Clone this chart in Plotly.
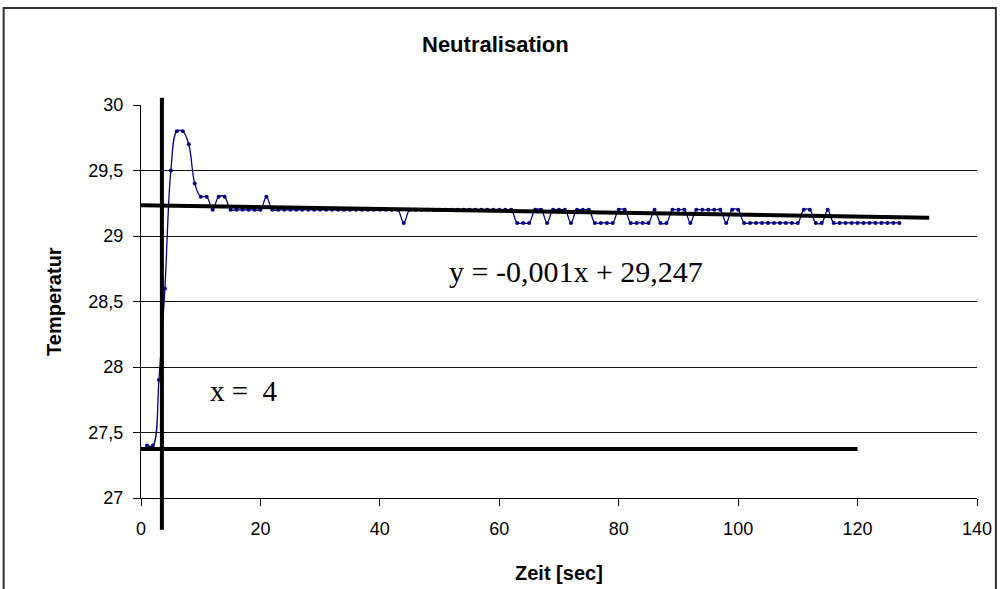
import plotly.graph_objects as go

# ---- data ----
time_s = list(range(1, 128))
temperature = [
    27.4, 27.4, 27.9, 28.6, 29.5, 29.8, 29.8, 29.7, 29.4, 29.3,   # 1-10
    29.3, 29.2, 29.3, 29.3, 29.2, 29.2, 29.2, 29.2, 29.2, 29.2,   # 11-20
    29.3, 29.2, 29.2, 29.2, 29.2, 29.2, 29.2, 29.2, 29.2, 29.2,   # 21-30
    29.2, 29.2, 29.2, 29.2, 29.2, 29.2, 29.2, 29.2, 29.2, 29.2,   # 31-40
    29.2, 29.2, 29.2, 29.1, 29.2, 29.2, 29.2, 29.2, 29.2, 29.2,   # 41-50
    29.2, 29.2, 29.2, 29.2, 29.2, 29.2, 29.2, 29.2, 29.2, 29.2,   # 51-60
    29.2, 29.2, 29.1, 29.1, 29.1, 29.2, 29.2, 29.1, 29.2, 29.2,   # 61-70
    29.2, 29.1, 29.2, 29.2, 29.2, 29.1, 29.1, 29.1, 29.1, 29.2,   # 71-80
    29.2, 29.1, 29.1, 29.1, 29.1, 29.2, 29.1, 29.1, 29.2, 29.2,   # 81-90
    29.2, 29.1, 29.2, 29.2, 29.2, 29.2, 29.2, 29.1, 29.2, 29.2,   # 91-100
    29.1, 29.1, 29.1, 29.1, 29.1, 29.1, 29.1, 29.1, 29.1, 29.1,   # 101-110
    29.2, 29.2, 29.1, 29.1, 29.2, 29.1, 29.1, 29.1, 29.1, 29.1,   # 111-120
    29.1, 29.1, 29.1, 29.1, 29.1, 29.1, 29.1,                     # 121-127
]

trend_x = [0, 132]
trend_y = [29.235, 29.14]

base_x = [0, 120]
base_y = [27.375, 27.375]

marker_x = 3.5

x_ticks = [0, 20, 40, 60, 80, 100, 120, 140]
x_ticklabels = ["0", "20", "40", "60", "80", "100", "120", "140"]
y_ticks = [27, 27.5, 28, 28.5, 29, 29.5, 30]
y_ticklabels = ["27", "27,5", "28", "28,5", "29", "29,5", "30"]

title_text = "Neutralisation"
x_title = "Zeit [sec]"
y_title = "Temperatur"
eq_text = "y = -0,001x + 29,247"
x_text = "x =  4"

SANS = "Liberation Sans, Arial, sans-serif"
SERIF = "Liberation Serif, Times New Roman, serif"

fig = go.Figure()

fig.add_trace(go.Scatter(
    x=time_s, y=temperature, mode="lines+markers",
    line=dict(color="#000080", width=1.3, shape="spline", smoothing=1.0),
    marker=dict(color="#000080", size=4),
    showlegend=False, hoverinfo="skip",
))
fig.add_trace(go.Scatter(
    x=trend_x, y=trend_y, mode="lines",
    line=dict(color="black", width=4),
    showlegend=False, hoverinfo="skip",
))
fig.add_trace(go.Scatter(
    x=base_x, y=base_y, mode="lines",
    line=dict(color="black", width=4),
    showlegend=False, hoverinfo="skip",
))

# vertical marker line extending past the plot area
fig.add_shape(type="line", xref="x", yref="paper",
              x0=marker_x, x1=marker_x, y0=-0.081, y1=1.0186,
              line=dict(color="black", width=4))
# outer chart border
fig.add_shape(type="rect", xref="paper", yref="paper",
              x0=-0.1643, x1=1.0226, y0=-0.28, y1=1.2468,
              line=dict(color="#303030", width=2))

fig.add_annotation(text=eq_text, x=72.8, y=28.73, xref="x", yref="y",
                   xanchor="center", yanchor="middle",
                   showarrow=False, font=dict(family=SERIF, size=30, color="black"))
fig.add_annotation(text=x_text, x=17.2, y=27.82, xref="x", yref="y",
                   xanchor="center", yanchor="middle",
                   showarrow=False, font=dict(family=SERIF, size=29, color="black"))

fig.add_annotation(text="<b>" + title_text + "</b>", x=0.4238, y=1.1527,
                   xref="paper", yref="paper", xanchor="center", yanchor="middle",
                   showarrow=False, font=dict(family=SANS, size=22, color="black"))
fig.add_annotation(text="<b>" + x_title + "</b>", x=0.5, y=-0.1908, xref="paper", yref="paper",
                   xanchor="center", yanchor="middle",
                   showarrow=False, font=dict(family=SANS, size=20, color="black"))
fig.add_annotation(text="<b>" + y_title + "</b>", x=-0.1048, y=0.5, xref="paper", yref="paper",
                   xanchor="center", yanchor="middle",
                   textangle=-90, showarrow=False, font=dict(family=SANS, size=20, color="black"))

fig.update_layout(
    width=1004, height=589,
    margin=dict(l=141, r=23, t=105, b=91),
    paper_bgcolor="white", plot_bgcolor="white",
    xaxis=dict(range=[0, 140], tickvals=x_ticks, ticktext=x_ticklabels,
               showgrid=False, zeroline=False, showline=True, linecolor="black", linewidth=1,
               ticks="outside", ticklen=7, tickcolor="black", ticklabelstandoff=7,
               tickfont=dict(family=SANS, size=18, color="black")),
    yaxis=dict(range=[27, 30], tickvals=y_ticks, ticktext=y_ticklabels,
               showgrid=True, gridcolor="#111111", gridwidth=1,
               zeroline=False, showline=True, linecolor="black", linewidth=1,
               ticks="outside", ticklen=7, tickcolor="black", ticklabelstandoff=6,
               tickfont=dict(family=SANS, size=18, color="black")),
)

fig.write_html("out.html", config={"displayModeBar": False},
               post_script="document.body.style.margin='0';document.body.style.overflow='hidden';")
